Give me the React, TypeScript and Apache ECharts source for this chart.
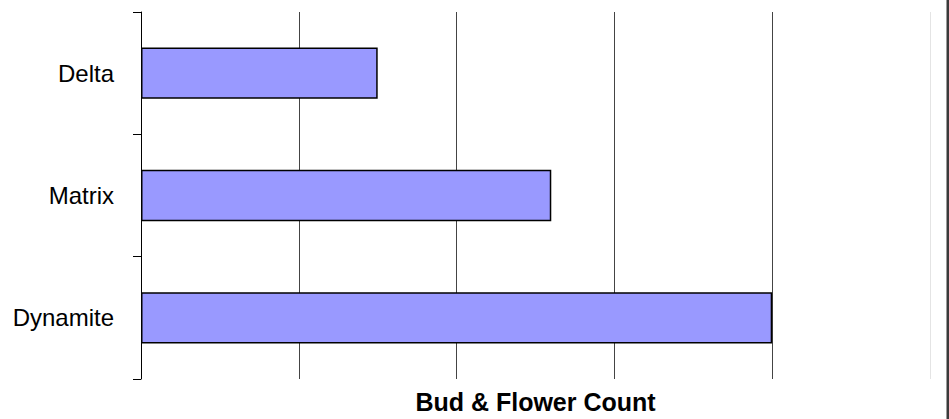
import React, { useEffect, useRef } from "react";
import * as echarts from "echarts";

const categories: string[] = ["Delta", "Matrix", "Dynamite"];
const budFlowerCount: number[] = [15, 26, 40];
const axisMin = 0;
const axisMax = 50;
const axisInterval = 10;
const axisTitle = "Bud & Flower Count";

export default function App() {
  const ref = useRef<HTMLDivElement>(null);
  useEffect(() => {
    if (!ref.current) return;
    const chart = echarts.init(ref.current, null, { renderer: "svg" });
    chart.setOption({
      animation: false,
      backgroundColor: "#ffffff",
      textStyle: { fontFamily: "Liberation Sans, Arial, sans-serif" },
      grid: { left: 141, right: 19, top: 12, bottom: 35, containLabel: false },
      xAxis: {
        type: "value",
        min: axisMin,
        max: axisMax,
        interval: axisInterval,
        name: axisTitle,
        nameLocation: "middle",
        nameGap: 10,
        nameTextStyle: { fontSize: 25, fontWeight: "bold", color: "#000", fontFamily: "Liberation Sans, Arial, sans-serif" },
        axisLine: { show: false },
        axisTick: { show: false },
        axisLabel: { show: false },
        splitLine: {
          show: true,
          lineStyle: { color: ["#444", "#444", "#444", "#444", "#444", "#e4e4e4"], width: 1 },
        },
      },
      yAxis: {
        type: "category",
        data: categories,
        inverse: true,
        axisLine: { show: true, lineStyle: { color: "#000", width: 1 } },
        axisTick: { show: true, length: 8, lineStyle: { color: "#000", width: 1 } },
        axisLabel: { margin: 27, fontSize: 24, color: "#000", fontFamily: "Liberation Sans, Arial, sans-serif" },
        splitLine: { show: false },
      },
      series: [
        {
          type: "bar",
          data: budFlowerCount,
          barCategoryGap: "58%",
          itemStyle: { color: "#9999ff", borderColor: "#000", borderWidth: 1.5 },
        },
      ],
      graphic: [
        {
          type: "rect",
          right: 0,
          top: 0,
          shape: { width: 2.5, height: 419 },
          style: { fill: "#3a3a3a" },
        },
      ],
    });
    return () => chart.dispose();
  }, []);
  return (
    <div
      ref={ref}
      style={{ position: "absolute", left: 0, top: 0, width: 949, height: 419 }}
    />
  );
}
